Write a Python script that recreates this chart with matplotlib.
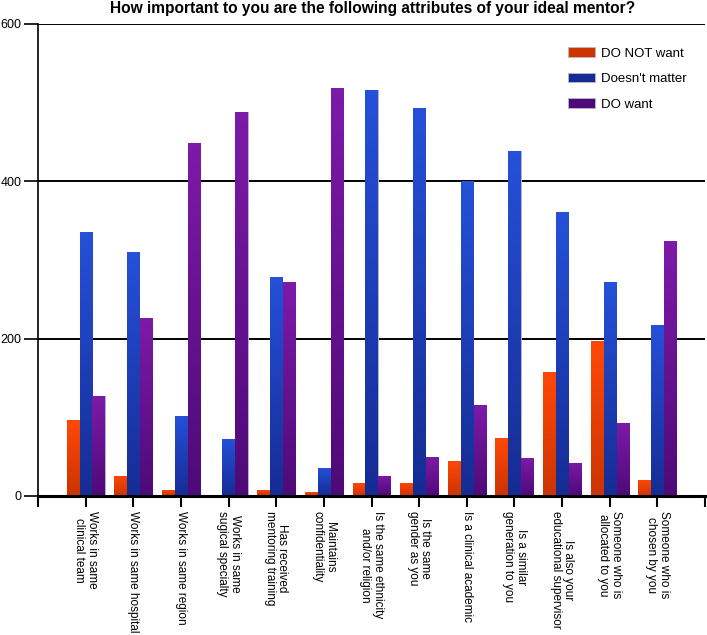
import numpy as np
import matplotlib
matplotlib.use("Agg")
import matplotlib.pyplot as plt
from matplotlib.colors import LinearSegmentedColormap

plt.rcParams['font.family'] = ['Liberation Sans', 'DejaVu Sans']

# data
categories = ["Works in same\nclinical team", "Works in same hospital", "Works in same region",
              "Works in same\nsugical specialty", "Has received\nmentoring training",
              "Maintains\nconfidentiality", "Is the same ethnicity\nand/or religion",
              "Is the same\ngender as you", "Is a clinical academic",
              "Is a similar\ngeneration to you", "Is also your\neducational supervisor",
              "Someone who is\nallocated to you", "Someone who is\nchosen by you"]
do_not_want = [97, 26, 8, 1, 8, 5, 17, 17, 45, 74, 158, 197, 20]
doesnt_matter = [336, 310, 102, 73, 279, 36, 516, 493, 400, 438, 361, 272, 217]
do_want = [127, 226, 449, 488, 272, 519, 26, 50, 116, 48, 42, 93, 324]
series_names = ["DO NOT want", "Doesn't matter", "DO want"]

# colours (top, bottom) for the gradient fill
colors = [("#ff4808", "#cc3400"), ("#2550d8", "#162c94"), ("#7d1aa8", "#4e0a78")]

fig = plt.figure(figsize=(7.07, 6.35), dpi=100)
ax = fig.add_axes([38 / 707, 1 - 496 / 635, 667 / 707, 472 / 635])

x = np.arange(len(categories))
w = 0.255
offsets = [-0.27, 0.0, 0.27]
all_vals = [do_not_want, doesnt_matter, do_want]

grad = np.linspace(0, 1, 64).reshape(-1, 1)
for vals, off, (ctop, cbot), name in zip(all_vals, offsets, colors, series_names):
    bars = ax.bar(x + off, vals, width=w, color=ctop, edgecolor="#b8b8c8",
                  linewidth=0.6, label=name, zorder=3)
    cmap = LinearSegmentedColormap.from_list("g", [cbot, ctop])
    for b in bars:
        bx, by = b.get_x(), b.get_y()
        bw, bh = b.get_width(), b.get_height()
        if bh <= 0:
            continue
        im = ax.imshow(grad, cmap=cmap, aspect="auto", origin="lower",
                       extent=[bx, bx + bw, by, by + bh], zorder=3.5)
        im.set_clip_path(b)

ax.set_xlim(-1.0, 13.0)
ax.set_ylim(0, 600)

ax.set_yticks([0, 200, 400, 600])
ax.yaxis.grid(True, color="black", linewidth=1.4, zorder=1)
ax.tick_params(axis="y", length=10, width=1.2, pad=2, labelsize=9)

ax.set_xticks(x)
ax.set_xticklabels(categories, rotation=-90, ha="center", va="top",
                   fontsize=8.5, linespacing=1.05)
ax.set_xticks([-1.0, 13.0], minor=True)
ax.tick_params(axis="x", which="both", length=8, width=1.5, pad=3)

for s in ["top", "right"]:
    ax.spines[s].set_visible(False)
ax.spines["left"].set_linewidth(1.2)
ax.spines["bottom"].set_linewidth(2.2)
ax.spines["bottom"].set_zorder(5)

leg = ax.legend(loc="upper left", bbox_to_anchor=(0.777, 0.976), frameon=False,
                fontsize=9.5, handlelength=2.0, handleheight=0.75,
                labelspacing=1.0, handletextpad=0.5)
for h, (ctop, cbot) in zip(leg.legend_handles, colors):
    h.set_facecolor(cbot)

fig.text(373 / 707, 1 - 9 / 635, "How important to you are the following attributes of your ideal mentor?",
         ha="center", va="center", fontsize=11.2, fontweight="bold")

fig.savefig("out.png", dpi=100)
